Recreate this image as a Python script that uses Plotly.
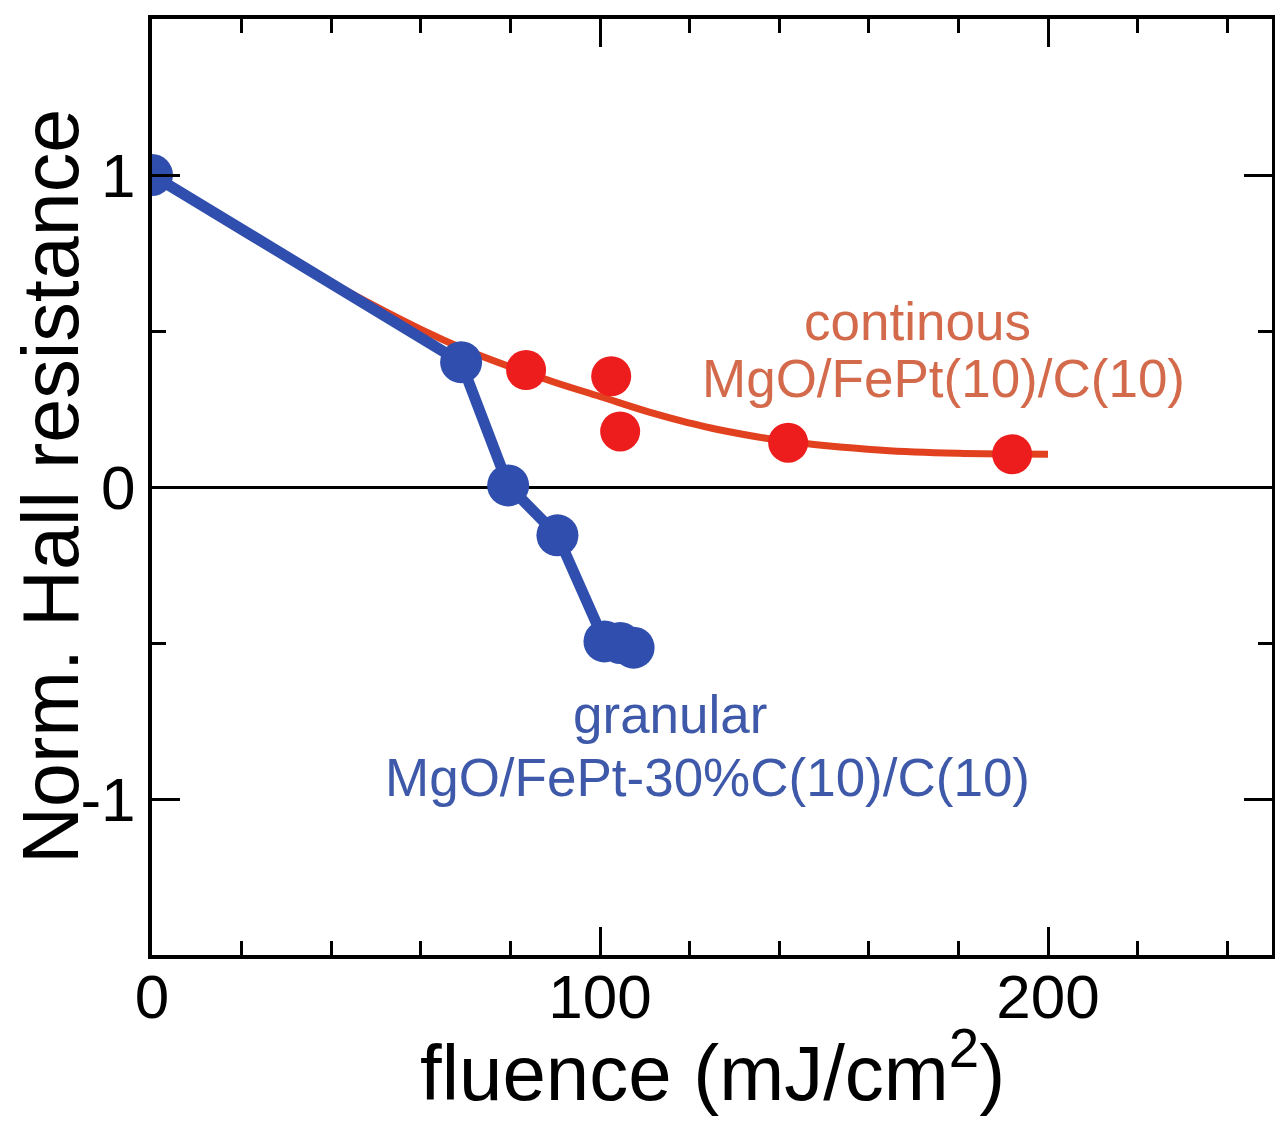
import plotly.graph_objects as go

# Continuous film: measured points
cont_x = [83.5, 102.5, 104.5, 142.0, 192.0]
cont_y = [0.375, 0.355, 0.178, 0.142, 0.105]
# Continuous film: guide curve
curve_x = [0, 20, 40, 60, 70, 80, 90, 100, 111, 120, 126, 140, 163, 180, 200]
curve_y = [1.0, 0.82, 0.655, 0.505, 0.44, 0.385, 0.335, 0.29, 0.24, 0.205, 0.185, 0.15, 0.118, 0.108, 0.105]

# Granular film
gran_x = [0, 69.0, 79.5, 90.5, 101.0, 104.5, 107.5]
gran_y = [1.0, 0.40, 0.005, -0.155, -0.495, -0.50, -0.515]

# Labels
labels = ["continous", "MgO/FePt(10)/C(10)", "granular", "MgO/FePt-30%C(10)/C(10)"]
x_title = "fluence (mJ/cm<sup>2</sup>)"
y_title = "Norm. Hall resistance"

RED_LINE = "#E2411F"
RED_MARK = "#EE1D1D"
BLUE = "#2F4EAE"
RED_TEXT = "#D46A4C"
BLUE_TEXT = "#3E59A9"
FONT = "Liberation Sans, Arial, Helvetica, sans-serif"

OFF = 8  # page body offset
W, H = 1283, 1133
L, R, T, B = 152 - OFF, 11 + OFF, 19 - OFF, 178 + OFF
PW, PH = W - L - R, H - T - B

def px2paper(px, py):
    return (px - OFF - L) / PW, 1 - (py - OFF - T) / PH

fig = go.Figure()
fig.add_trace(go.Scatter(x=curve_x, y=curve_y, mode="lines",
                         line=dict(color=RED_LINE, width=7, shape="spline", smoothing=1.0),
                         showlegend=False, hoverinfo="skip"))
fig.add_trace(go.Scatter(x=cont_x, y=cont_y, mode="markers",
                         marker=dict(color=RED_MARK, size=40, line=dict(width=0)),
                         showlegend=False))
fig.add_trace(go.Scatter(x=gran_x, y=gran_y, mode="lines+markers",
                         line=dict(color=BLUE, width=11),
                         marker=dict(color=BLUE, size=42, line=dict(width=0)),
                         showlegend=False))

pos = [(917, 322, RED_TEXT), (943, 379, RED_TEXT), (670, 714, BLUE_TEXT), (707, 777, BLUE_TEXT)]
for txt, (px, py, col) in zip(labels, pos):
    ax_, ay_ = px2paper(px, py)
    fig.add_annotation(x=ax_, y=ay_, xref="paper", yref="paper", text=txt, showarrow=False,
                       xanchor="center", yanchor="middle",
                       font=dict(family=FONT, size=53, color=col))

# axis titles as annotations for precise placement
tx, ty = px2paper(712, 1067)
fig.add_annotation(x=tx, y=ty, xref="paper", yref="paper", text=x_title, showarrow=False,
                   xanchor="center", yanchor="middle",
                   font=dict(family=FONT, size=78, color="black"))
tx, ty = px2paper(50, 487)
fig.add_annotation(x=tx, y=ty, xref="paper", yref="paper", text=y_title, showarrow=False,
                   xanchor="center", yanchor="middle", textangle=-90,
                   font=dict(family=FONT, size=79, color="black"))

axis_common = dict(showline=True, linecolor="black", linewidth=4, mirror="ticks",
                   ticks="inside", ticklen=28, tickwidth=3, tickcolor="black",
                   showgrid=False, automargin=False,
                   tickfont=dict(family=FONT, size=62, color="black"))

fig.update_xaxes(range=[0, 250], tickvals=[0, 100, 200], zeroline=False,
                 ticklabelstandoff=-15,
                 minor=dict(dtick=20, ticklen=14, tickwidth=3, ticks="inside", tickcolor="black", showgrid=False),
                 **axis_common)
fig.update_yaxes(range=[-1.5, 1.5], tickvals=[-1, 0, 1], ticktext=["-1", "0", "1"],
                 zeroline=True, zerolinecolor="black", zerolinewidth=3,
                 minor=dict(dtick=0.5, ticklen=14, tickwidth=3, ticks="inside", tickcolor="black", showgrid=False),
                 **axis_common)

fig.update_layout(width=W, height=H, margin=dict(l=L, r=R, t=T, b=B),
                  plot_bgcolor="white", paper_bgcolor="white",
                  font=dict(family=FONT))

fig.write_html("out.html")
